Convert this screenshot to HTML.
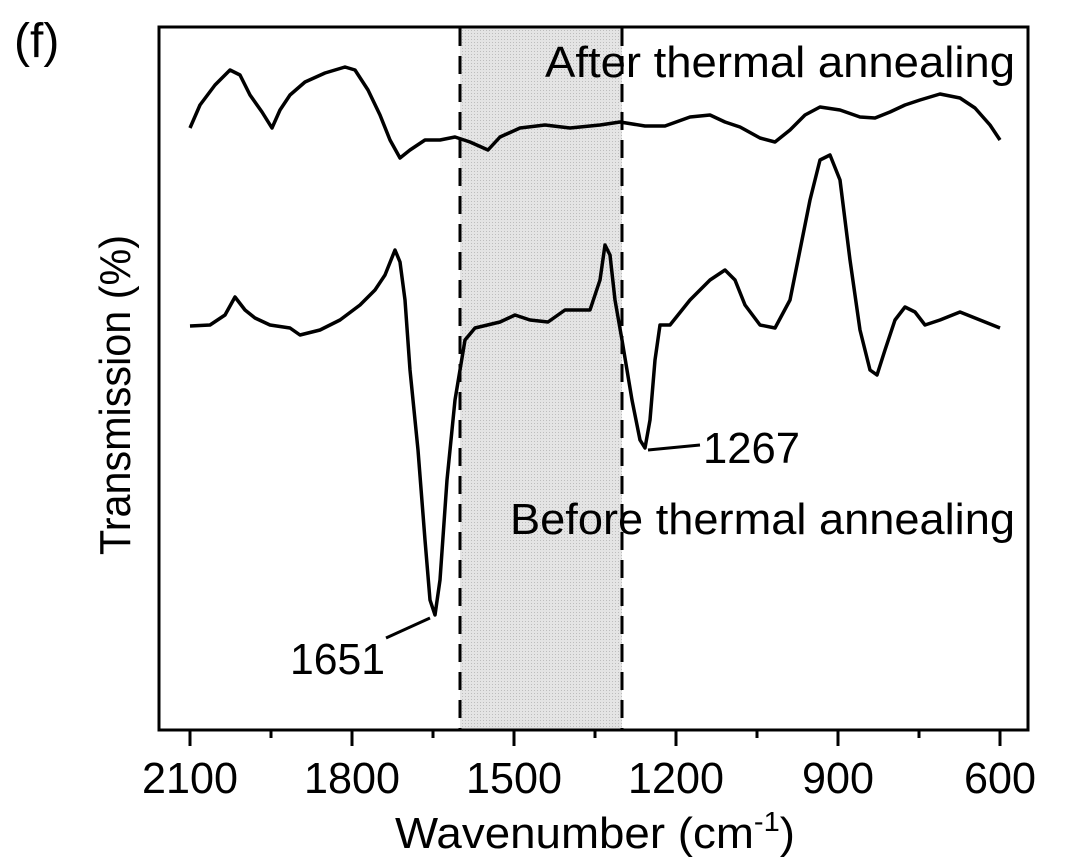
<!DOCTYPE html>
<html><head><meta charset="utf-8"><style>
body{margin:0;background:#fff}
svg{display:block;font-family:"Liberation Sans",Arial,sans-serif}
</style></head><body>
<svg width="1080" height="865" viewBox="0 0 1080 865">
<defs><pattern id="p" width="3" height="3" patternUnits="userSpaceOnUse"><rect width="3" height="3" fill="#e4e4e4"/><rect width="1" height="1" fill="#bdbdbd"/></pattern></defs>
<rect x="460" y="28" width="162" height="702" fill="url(#p)"/>
<line x1="460" y1="28" x2="460" y2="730" stroke="#000" stroke-width="3" stroke-dasharray="18,10"/>
<line x1="622" y1="28" x2="622" y2="730" stroke="#000" stroke-width="3" stroke-dasharray="18,10"/>
<rect x="159" y="27" width="869" height="703" fill="none" stroke="#000" stroke-width="3"/>
<g stroke="#000" stroke-width="3">
<line x1="190" y1="730" x2="190" y2="746"/><line x1="352" y1="730" x2="352" y2="746"/><line x1="514" y1="730" x2="514" y2="746"/><line x1="676" y1="730" x2="676" y2="746"/><line x1="838" y1="730" x2="838" y2="746"/><line x1="1000" y1="730" x2="1000" y2="746"/>
<line x1="271" y1="730" x2="271" y2="738"/><line x1="433" y1="730" x2="433" y2="738"/><line x1="595" y1="730" x2="595" y2="738"/><line x1="757" y1="730" x2="757" y2="738"/><line x1="919" y1="730" x2="919" y2="738"/>
</g>
<g font-size="44" text-anchor="middle">
<text x="190" y="793" textLength="96" lengthAdjust="spacingAndGlyphs">2100</text><text x="352" y="793" textLength="96" lengthAdjust="spacingAndGlyphs">1800</text><text x="514" y="793" textLength="96" lengthAdjust="spacingAndGlyphs">1500</text><text x="676" y="793" textLength="96" lengthAdjust="spacingAndGlyphs">1200</text><text x="838" y="793" textLength="72" lengthAdjust="spacingAndGlyphs">900</text><text x="1000" y="793" textLength="72" lengthAdjust="spacingAndGlyphs">600</text>
</g>
<text x="395" y="848" font-size="44" textLength="400" lengthAdjust="spacingAndGlyphs">Wavenumber (cm<tspan font-size="28" dy="-17">-1</tspan><tspan dy="17">)</tspan></text>
<text transform="translate(130,395) rotate(-90)" font-size="44" text-anchor="middle" textLength="320" lengthAdjust="spacingAndGlyphs">Transmission (%)</text>
<text x="14" y="57" font-size="48">(f)</text>
<text x="545" y="77" font-size="44" textLength="470" lengthAdjust="spacingAndGlyphs">After thermal annealing</text>
<text x="510" y="534" font-size="44" textLength="505" lengthAdjust="spacingAndGlyphs">Before thermal annealing</text>
<text x="290" y="674" font-size="44" textLength="95" lengthAdjust="spacingAndGlyphs">1651</text>
<text x="703" y="463" font-size="44" textLength="97" lengthAdjust="spacingAndGlyphs">1267</text>
<line x1="386" y1="638" x2="430" y2="618" stroke="#000" stroke-width="3"/>
<line x1="648" y1="450" x2="700" y2="445" stroke="#000" stroke-width="3"/>
<g fill="none" stroke="#000" stroke-width="3.5" stroke-linejoin="round">
<polyline points="190,128 200,105 215,85 230,70 240,75 250,95 262,112 272,128 280,110 290,95 305,82 325,73 345,67 355,70 368,90 380,115 390,140 400,158 410,150 425,140 440,140 455,137 470,142 488,150 500,137 520,128 545,125 570,128 600,125 620,122 645,126 665,126 690,117 710,115 725,122 740,127 760,138 775,142 790,130 805,115 820,107 840,110 860,117 875,118 890,112 905,105 920,100 940,94 960,98 975,108 990,125 1000,140"/>
<polyline points="190,326 210,325 225,315 235,297 245,310 255,318 270,325 290,328 300,335 320,330 340,320 360,305 375,290 385,275 395,250 400,262 405,300 410,370 418,450 425,540 430,600 435,615 440,580 447,480 455,400 465,340 475,328 500,322 515,315 530,320 548,322 565,310 590,310 600,280 605,245 610,255 615,300 622,340 632,400 640,440 645,448 650,420 655,360 660,325 670,325 690,300 710,280 725,270 735,280 745,305 760,325 775,328 790,300 800,250 810,200 820,160 830,155 840,180 850,260 860,330 870,370 877,375 885,350 895,320 905,307 915,312 925,325 940,320 960,312 980,320 1000,328"/>
</g>
</svg>
</body></html>
